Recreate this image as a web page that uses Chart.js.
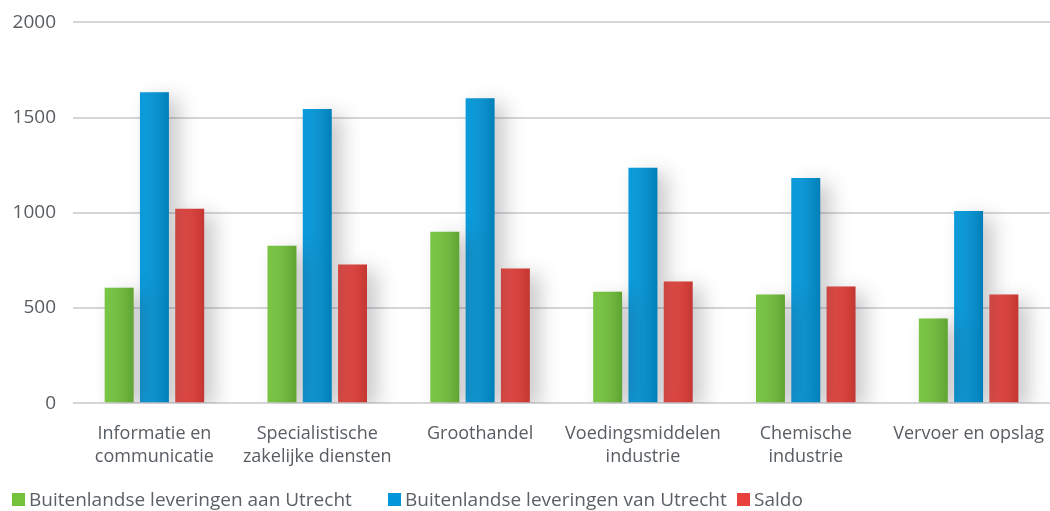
<!DOCTYPE html>
<html>
<head>
    <title>Buitenlandse leveringen Utrecht</title>
    <script src="https://cdn.jsdelivr.net/npm/chart.js"></script>
    <style>
        body { margin: 0; background: #fff; font-family: 'Open Sans', sans-serif; }
        #wrap { position: relative; width: 1050px; height: 511px; overflow: hidden; }
        #barChart { position: absolute; left: 0; top: -6px; }
        #legend { position: absolute; left: 12px; top: 486px; font-size: 19px; color: #5a6065; white-space: nowrap; }
        #legend span.item { display: inline-block; }
        #legend i { display: inline-block; width: 13px; height: 13px; margin-right: 4px; vertical-align: 0px; }
    </style>
</head>
<body>
    <div id="wrap">
        <canvas id="barChart" width="1050" height="494"></canvas>
        <div id="legend"></div>
    </div>

    <script>
        // Data
        const categories = [
            ['Informatie en', 'communicatie'],
            ['Specialistische', 'zakelijke diensten'],
            'Groothandel',
            ['Voedingsmiddelen', 'industrie'],
            ['Chemische', 'industrie'],
            'Vervoer en opslag'
        ];
        const seriesNames = [
            'Buitenlandse leveringen aan Utrecht',
            'Buitenlandse leveringen van Utrecht',
            'Saldo'
        ];
        const aanUtrecht = [607, 827, 900, 586, 571, 445];
        const vanUtrecht = [1633, 1545, 1602, 1236, 1183, 1010];
        const saldo = [1021, 728, 707, 639, 613, 571];
        const yTicks = [0, 500, 1000, 1500, 2000];

        const colors = ['#72c23b', '#0096d9', '#e8403a'];
        const legendWidths = [376, 349, 120];

        // drop shadow behind bars + darker right side of each bar
        const barLook = {
            id: 'barLook',
            beforeDatasetDraw(chart) {
                const ctx = chart.ctx;
                ctx.save();
                ctx.shadowColor = 'rgba(60, 60, 70, 0.28)';
                ctx.shadowBlur = 20;
                ctx.shadowOffsetX = 10;
                ctx.shadowOffsetY = 6;
            },
            afterDatasetDraw(chart, args) {
                const ctx = chart.ctx;
                ctx.restore();
                args.meta.data.forEach(bar => {
                    const left = bar.x - bar.width / 2;
                    const g = ctx.createLinearGradient(left, 0, left + bar.width, 0);
                    g.addColorStop(0, 'rgba(255,255,255,0.04)');
                    g.addColorStop(1, 'rgba(0,0,0,0.16)');
                    ctx.save();
                    ctx.fillStyle = g;
                    ctx.fillRect(left, bar.y, bar.width, bar.base - bar.y);
                    ctx.restore();
                });
            }
        };

        const ctx = document.getElementById('barChart').getContext('2d');
        new Chart(ctx, {
            type: 'bar',
            data: {
                labels: categories,
                datasets: [aanUtrecht, vanUtrecht, saldo].map((values, i) => ({
                    label: seriesNames[i],
                    data: values,
                    backgroundColor: colors[i],
                    borderWidth: 0,
                    categoryPercentage: 0.65,
                    barPercentage: 0.82
                }))
            },
            options: {
                responsive: false,
                animation: false,
                layout: { padding: { top: 7, right: 0, left: 0, bottom: 0 } },
                plugins: {
                    legend: { display: false },
                    tooltip: { enabled: false }
                },
                scales: {
                    x: {
                        afterFit: axis => { axis.paddingRight = 0; },
                        grid: { display: false, drawTicks: false },
                        border: { display: false },
                        ticks: {
                            color: '#575d62',
                            padding: 19,
                            maxRotation: 0,
                            autoSkip: false,
                            font: { family: 'Open Sans', size: 18, lineHeight: 1.3 }
                        }
                    },
                    y: {
                        min: 0,
                        max: 2000,
                        afterBuildTicks: axis => { axis.ticks = yTicks.map(v => ({ value: v })); },
                        afterFit: axis => { axis.width = 73; },
                        grid: { color: '#d6d6da', lineWidth: 2, drawTicks: false },
                        border: { display: false },
                        ticks: {
                            color: '#575d62',
                            padding: 17,
                            callback: v => String(v),
                            font: { family: 'Open Sans', size: 19 }
                        }
                    }
                }
            },
            plugins: [barLook]
        });

        // legend below the chart
        const legend = document.getElementById('legend');
        seriesNames.forEach((name, i) => {
            const item = document.createElement('span');
            item.className = 'item';
            item.style.width = legendWidths[i] + 'px';
            item.innerHTML = '<i style="background:' + colors[i] + '"></i>' + name;
            legend.appendChild(item);
        });
    </script>
</body>
</html>
